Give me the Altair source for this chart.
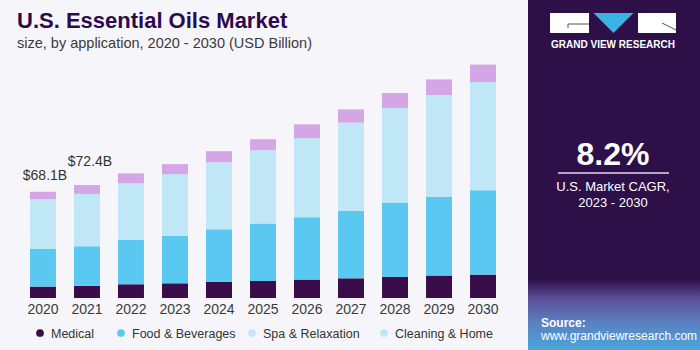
import altair as alt
import pandas as pd

years = ["2020", "2021", "2022", "2023", "2024", "2025", "2026", "2027", "2028", "2029", "2030"]
segments = ["Medical", "Food & Beverages", "Spa & Relaxation", "Cleaning & Home"]
medical = [7.3, 7.8, 8.8, 9.4, 10.4, 10.9, 11.8, 12.6, 13.5, 14.4, 15.0]
food = [24.1, 25.3, 28.4, 30.5, 33.6, 36.8, 39.9, 43.1, 47.7, 50.4, 54.0]
spa = [31.8, 33.6, 36.3, 39.5, 42.9, 47.0, 50.8, 56.7, 60.6, 65.2, 69.4]
cleaning = [4.9, 5.7, 6.4, 6.4, 7.2, 7.1, 8.8, 8.5, 9.6, 10.1, 11.2]
bar_colors = ["#3a0c4a", "#5ac8f0", "#bfe7f6", "#d4a6e6"]
legend_colors = ["#3a0c4a", "#5ac8f0", "#c4e9f6", "#bfe6f5"]
label_years = ["2020", "2021"]
label_totals = [68.1, 72.4]
label_texts = ["$68.1B", "$72.4B"]

rows = []
for i, y in enumerate(years):
    for k, (seg, vals) in enumerate(zip(segments, [medical, food, spa, cleaning])):
        rows.append({"year": y, "segment": seg, "value": vals[i], "order": k})
df = pd.DataFrame(rows)

xscale = alt.Scale(domain=years, range=[21.2, 504.8], paddingInner=0.41, paddingOuter=0.2)
yscale = alt.Scale(domain=[0, 191.0], range=[298, 0], nice=False, zero=True)

bars = alt.Chart(df).mark_bar().encode(
    x=alt.X("year:N", scale=xscale, axis=None),
    y=alt.Y("sum(value):Q", scale=yscale, axis=None, stack="zero"),
    color=alt.Color("segment:N", scale=alt.Scale(domain=segments, range=bar_colors), legend=None),
    order=alt.Order("order:Q"),
)

ydf = pd.DataFrame({"year": years})
year_labels = alt.Chart(ydf).mark_text(
    font="Liberation Sans", fontSize=14, color="#3a3a3a", baseline="alphabetic"
).encode(x=alt.X("year:N", scale=xscale, axis=None), y=alt.value(314), text="year:N")

ldf = pd.DataFrame({"year": label_years, "total": label_totals, "label": label_texts})
tot1 = alt.Chart(ldf.iloc[[0]]).mark_text(
    font="Liberation Sans", fontSize=14, color="#333333", dy=-16, dx=2
).encode(x=alt.X("year:N", scale=xscale, axis=None), y=alt.Y("total:Q", scale=yscale, axis=None), text="label:N")
tot2 = alt.Chart(ldf.iloc[[1]]).mark_text(
    font="Liberation Sans", fontSize=14, color="#333333", dy=-23, dx=3
).encode(x=alt.X("year:N", scale=xscale, axis=None), y=alt.Y("total:Q", scale=yscale, axis=None), text="label:N")

one = pd.DataFrame({"a": [0]})

def txt(s, x, y, size, color, weight="normal", align="left", font="Liberation Sans"):
    return alt.Chart(one).mark_text(
        text=s, font=font, fontSize=size, color=color, fontWeight=weight, align=align, baseline="alphabetic"
    ).encode(x=alt.value(x), y=alt.value(y))

def rect(x1, x2, y1, y2, color):
    return alt.Chart(one).mark_rect(color=color).encode(
        x=alt.value(x1), x2=alt.value(x2), y=alt.value(y1), y2=alt.value(y2))

def rule(x1, x2, y1, y2, color, w):
    return alt.Chart(one).mark_rule(color=color, strokeWidth=w).encode(
        x=alt.value(x1), x2=alt.value(x2), y=alt.value(y1), y2=alt.value(y2))

title = txt("U.S. Essential Oils Market", 17, 28, 22, "#2c0b4d", weight="bold")
subtitle = txt("size, by application, 2020 - 2030 (USD Billion)", 17, 48, 14.5, "#3a3a3a")

# Legend
legend_x = [40, 121, 252, 384]
legend_layers = []
for lx, lab, col in zip(legend_x, segments, legend_colors):
    legend_layers.append(
        alt.Chart(one).mark_point(shape="circle", filled=True, size=60, color=col, opacity=1).encode(
            x=alt.value(lx), y=alt.value(333)))
    legend_layers.append(txt(lab, lx + 11, 337.5, 12.5, "#333333"))

# Right panel
panel = rect(528, 700, 0, 350, "#2e1049")
grad = alt.Chart(one).mark_rect(
    color=alt.Gradient(
        gradient="linear",
        stops=[alt.GradientStop(color="#2e1049", offset=0),
               alt.GradientStop(color="#5a4c94", offset=0.25),
               alt.GradientStop(color="#5b7fc0", offset=0.6),
               alt.GradientStop(color="#4aa6dc", offset=1)],
        x1=0, x2=0, y1=0, y2=1)
).encode(x=alt.value(528), x2=alt.value(700), y=alt.value(280), y2=alt.value(350))

logo_l = rect(550, 589, 13, 33, "#ffffff")
logo_r = rect(638, 676, 13, 33, "#ffffff")
logo_l1 = rule(568, 589, 24, 24, "#555555", 1)
logo_l2 = rule(568, 568, 24, 28, "#555555", 1)
logo_r1 = rule(662, 676, 23, 30, "#555555", 1)
tri = alt.Chart(one).mark_point(
    shape="M -1 -0.5 L 1 -0.5 L 0 0.5 Z", filled=True, size=1600, color="#39b3e6", opacity=1
).encode(x=alt.value(613.5), y=alt.value(23))
logo_txt = txt("GRAND VIEW RESEARCH", 613, 48, 10, "#ffffff", weight="bold", align="center")

cagr = txt("8.2%", 613, 165, 32, "#ffffff", weight="bold", align="center")
cagr_line = rule(558, 669, 173, 173, "#b7a3c8", 2)
cagr1 = txt("U.S. Market CAGR,", 613, 191, 13, "#ffffff", align="center")
cagr2 = txt("2023 - 2030", 613, 207, 13, "#ffffff", align="center")
src1 = txt("Source:", 541, 327, 12, "#ffffff", weight="bold")
src2 = txt("www.grandviewresearch.com", 541, 340, 12, "#ffffff")

chart = alt.layer(
    bars, year_labels, tot1, tot2, title, subtitle, *legend_layers,
    panel, grad, logo_l, logo_r, logo_l1, logo_l2, logo_r1, tri, logo_txt,
    cagr, cagr_line, cagr1, cagr2, src1, src2
).properties(
    width=700, height=350, padding=0,
    autosize=alt.AutoSizeParams(type="none"),
    background="#f6f6fa",
).configure_view(stroke=None)

chart.save("out.html", embed_options={"renderer": "svg", "actions": False})
